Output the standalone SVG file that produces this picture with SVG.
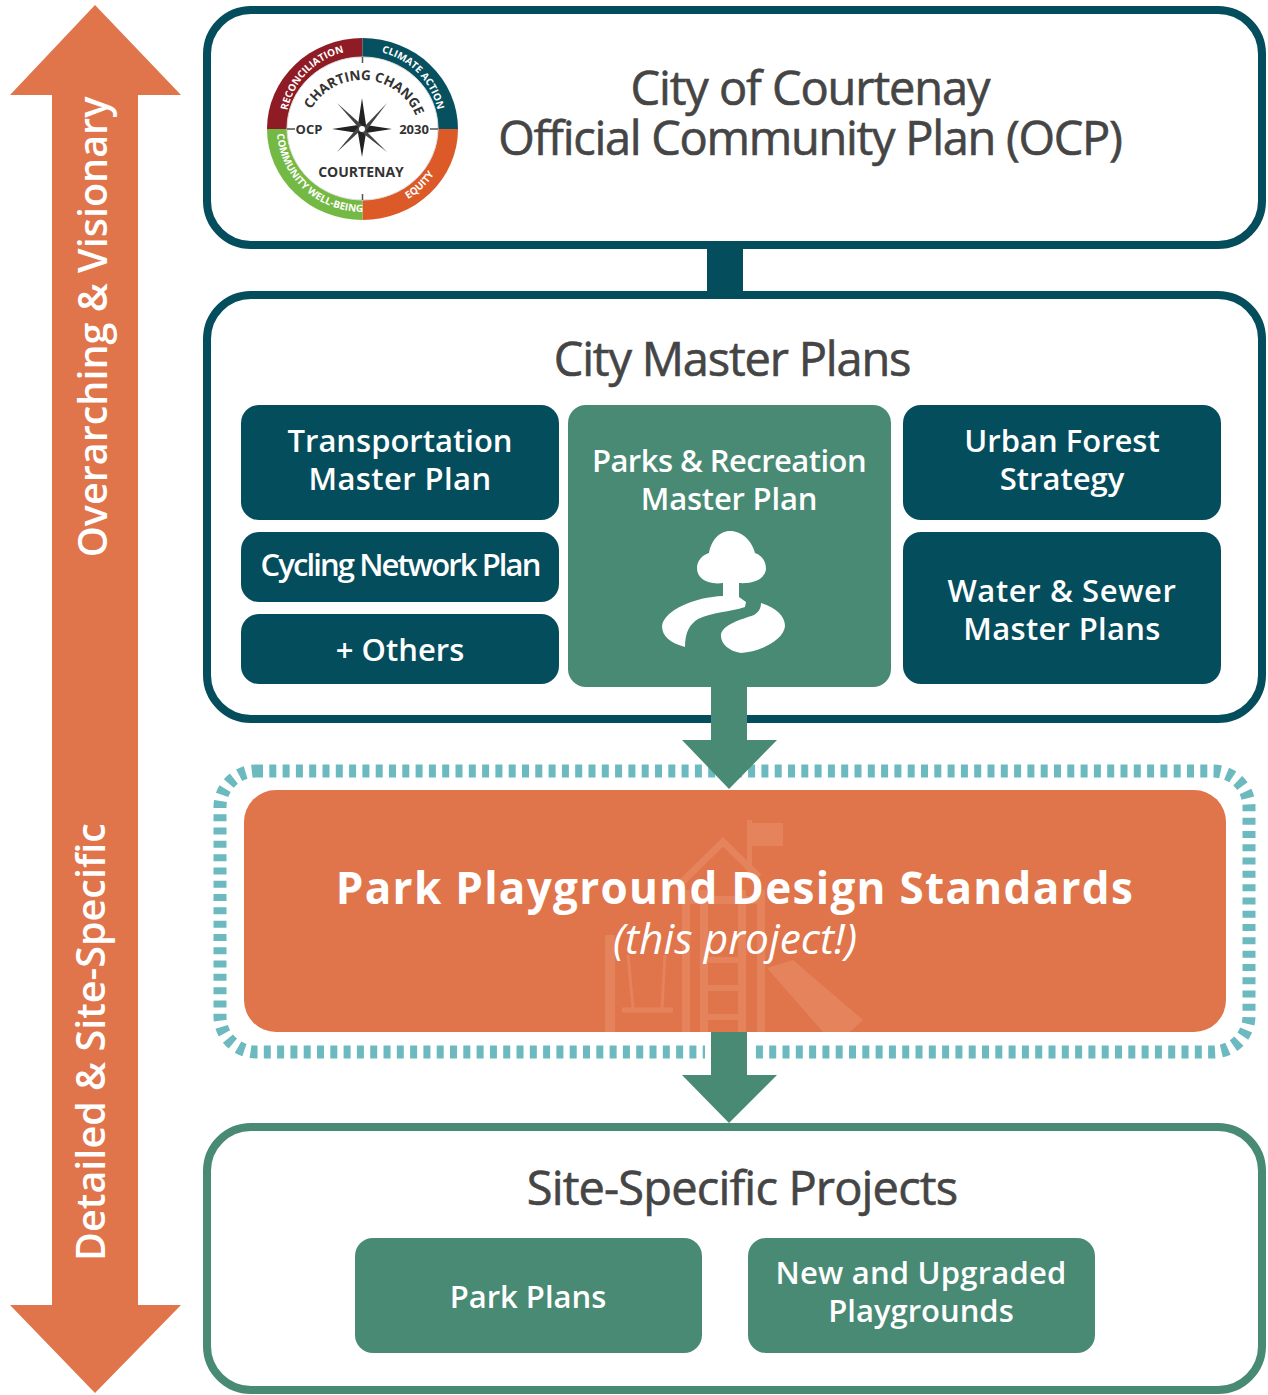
<svg xmlns="http://www.w3.org/2000/svg" width="1268" height="1395" viewBox="0 0 1268 1395">
<style>
text{font-family:"Open Sans","Liberation Sans",sans-serif;text-anchor:middle}
.h{font-size:47px;fill:#454545;stroke:#454545;stroke-width:.6px;letter-spacing:-1.1px}
.w{font-size:31px;fill:#fff;font-weight:600}
.frame{fill:#fff;stroke-width:8}
.navy{fill:#044d5c}
.green{fill:#488a74}
.lg{font-weight:700;fill:#333}
.rt{font-size:10px;fill:#fff;font-weight:700}
.side{font-size:39.500px;font-weight:600;fill:#fff}
.wm{fill:none;stroke:#e5835c}
</style>
<defs>
<path id="arcTL" d="M286 129A76.500 75 0 0 1 362.500 50"/>
<path id="arcTR" d="M362.500 50A76.500 75 0 0 1 439 129"/>
<path id="arcBL" d="M277 129A85.500 83 0 0 0 362.500 212"/>
<path id="arcBR" d="M362.500 212A85.500 83 0 0 0 448 129"/>
<path id="arcC" d="M304 137A58 57 0 0 1 420 137"/>
</defs>

<g id="side-arrow">
<path d="M95 5L181 95H138V1305H181L95 1393L10 1305H52V95H10Z" fill="#e0754b"/>
<text class="side" transform="translate(107 327) rotate(-90)">Overarching &amp; Visionary</text>
<text class="side" transform="translate(105 1042) rotate(-90)">Detailed &amp; Site-Specific</text>
</g>

<g id="ocp">
<rect x="207" y="10" width="1055" height="235" rx="44" class="frame" stroke="#044d5c"/>
<text class="h" x="810" y="105">City of Courtenay</text>
<text class="h" x="810" y="155" style="letter-spacing:-1.300px">Official Community Plan (OCP)</text>
</g>

<g id="ocp-logo">
<path d="M362.500 129V38A95.500 91 0 0 0 267 129Z" fill="#8f1c24"/>
<path d="M362.500 129V38A95.500 91 0 0 1 458 129Z" fill="#06505f"/>
<path d="M362.500 129H458A95.500 91 0 0 1 362.500 220Z" fill="#db5a27"/>
<path d="M362.500 129H267A95.500 91 0 0 0 362.500 220Z" fill="#74b944"/>
<ellipse cx="362.500" cy="128.500" rx="75.500" ry="71.500" fill="#fff" stroke="#ddd" stroke-width="1"/>
<path d="M362.500 57V63M362.500 194V200M287 129H295M430 129H438" stroke="#555" stroke-width="1.500"/>
<path d="M362 98L366 125L392 129L366 133L362 157L358 133L332 129L358 125Z" fill="#222"/>
<path d="M337 103L364 127L387 103L366 131L387 152L360 131L337 152L358 127Z" fill="#444"/>
<circle cx="362" cy="129" r="3" fill="#fff"/>
<text class="lg" x="309" y="134" font-size="13">OCP</text>
<text class="lg" x="414" y="134" font-size="13">2030</text>
<text class="lg" x="361" y="177" font-size="14">COURTENAY</text>
<text class="lg" font-size="13.500"><textPath href="#arcC" startOffset="52%">CHARTING CHANGE</textPath></text>
<text class="rt"><textPath href="#arcTL" startOffset="50%">RECONCILIATION</textPath></text>
<text class="rt"><textPath href="#arcTR" startOffset="50%">CLIMATE ACTION</textPath></text>
<text class="rt"><textPath href="#arcBL" startOffset="52%">COMMUNITY WELL-BEING</textPath></text>
<text class="rt"><textPath href="#arcBR" startOffset="50%">EQUITY</textPath></text>
</g>

<g id="master-plans">
<rect x="207" y="295" width="1055" height="424" rx="44" class="frame" stroke="#044d5c"/>
<text class="h" x="732" y="376" style="letter-spacing:-1.200px">City Master Plans</text>
</g>

<g id="transportation">
<rect x="241" y="405" width="318" height="115" rx="18" class="navy"/>
<text class="w" x="400" y="452">Transportation</text>
<text class="w" x="400" y="490" style="letter-spacing:.4px">Master Plan</text>
</g>
<g id="cycling">
<rect x="241" y="532" width="318" height="70" rx="18" class="navy"/>
<text class="w" x="400" y="576" style="letter-spacing:-1.900px">Cycling Network Plan</text>
</g>
<g id="others">
<rect x="241" y="614" width="318" height="70" rx="18" class="navy"/>
<text class="w" x="400" y="661">+ Others</text>
</g>
<g id="urban-forest">
<rect x="903" y="405" width="318" height="115" rx="18" class="navy"/>
<text class="w" x="1062" y="452">Urban Forest</text>
<text class="w" x="1062" y="490">Strategy</text>
</g>
<g id="water-sewer">
<rect x="903" y="532" width="318" height="152" rx="18" class="navy"/>
<text class="w" x="1062" y="602" style="letter-spacing:.6px">Water &amp; Sewer</text>
<text class="w" x="1062" y="640" style="letter-spacing:.3px">Master Plans</text>
</g>

<g id="standards-border">
<rect x="220" y="771" width="1029" height="281" rx="36" fill="none" stroke="#6cb9c0" stroke-width="13" stroke-dasharray="7 6.300"/>
<rect x="705" y="1042" width="46" height="20" fill="#fff"/>
</g>

<g id="standards">
<rect x="244" y="790" width="982" height="242" rx="32" fill="#e0754b"/>
<g id="playground-watermark">
<path class="wm" stroke-width="7" d="M681 883L723 842L759 877"/>
<path class="wm" stroke-width="5" d="M749.500 820V880"/>
<path d="M752 823H783V846H752Z" fill="#e5835c"/>
<path class="wm" stroke-width="8" d="M686 890V1032M704 890V1032M742 890V1032M761 890V1032M686 900H761"/>
<path class="wm" stroke-width="6" d="M704 960H742M704 988H742M704 1017H742"/>
<path class="wm" stroke-width="10" d="M610 935V1032"/>
<path class="wm" stroke-width="5" d="M622 1010H673"/>
<path class="wm" stroke-width="3" d="M628 955L633 1008M665 955L662 1008"/>
<path d="M767 968L793 960L863 1020L850 1032H823Z" fill="#e5835c"/>
</g>
<text x="735" y="904" fill="#fff" style="font-size:44px;font-weight:700;letter-spacing:1.300px">Park Playground Design Standards</text>
<text x="735" y="954" fill="#fff" style="font-size:42.500px;font-style:italic">(this project!)</text>
</g>

<g id="parks">
<rect x="568" y="405" width="323" height="282" rx="18" class="green"/>
<text class="w" x="729" y="472" style="letter-spacing:-.55px">Parks &amp; Recreation</text>
<text class="w" x="729" y="510" style="letter-spacing:-.2px">Master Plan</text>
<path fill="#fff" d="M730 531C742 531 752 541 755 553C762 555 766 562 766 569C765 579 753 584 739 583V597L746 602L745 607C730 612 712 612 698 619C690 624 685 632 685 647C670 643 662 636 662 626C664 610 695 597 723 596V583C708 585 697 579 697 568C697 561 702 555 709 553C711 541 719 531 730 531Z"/>
<path fill="#fff" d="M761 603C776 608 785 616 785 626C784 640 760 652 741 653C728 651 720 643 721 634C724 624 740 620 754 615C759 612 761 608 761 603Z"/>
</g>

<g id="site-projects">
<rect x="207" y="1127" width="1055" height="263" rx="44" class="frame" stroke="#488a74"/>
<text class="h" x="742" y="1205" style="letter-spacing:-.85px">Site-Specific Projects</text>
</g>
<g id="park-plans">
<rect x="355" y="1238" width="347" height="115" rx="18" class="green"/>
<text class="w" x="528" y="1308">Park Plans</text>
</g>
<g id="new-playgrounds">
<rect x="748" y="1238" width="347" height="115" rx="18" class="green"/>
<text class="w" x="921" y="1284" style="letter-spacing:.2px">New and Upgraded</text>
<text class="w" x="921" y="1322">Playgrounds</text>
</g>

<g id="connectors">
<rect x="707" y="245" width="36" height="50" class="navy"/>
<path d="M711 687H747V740H777L729 789L682 740H711Z" class="green"/>
<path d="M711 1032H747V1075H777L729 1123L682 1075H711Z" class="green"/>
</g>
</svg>
